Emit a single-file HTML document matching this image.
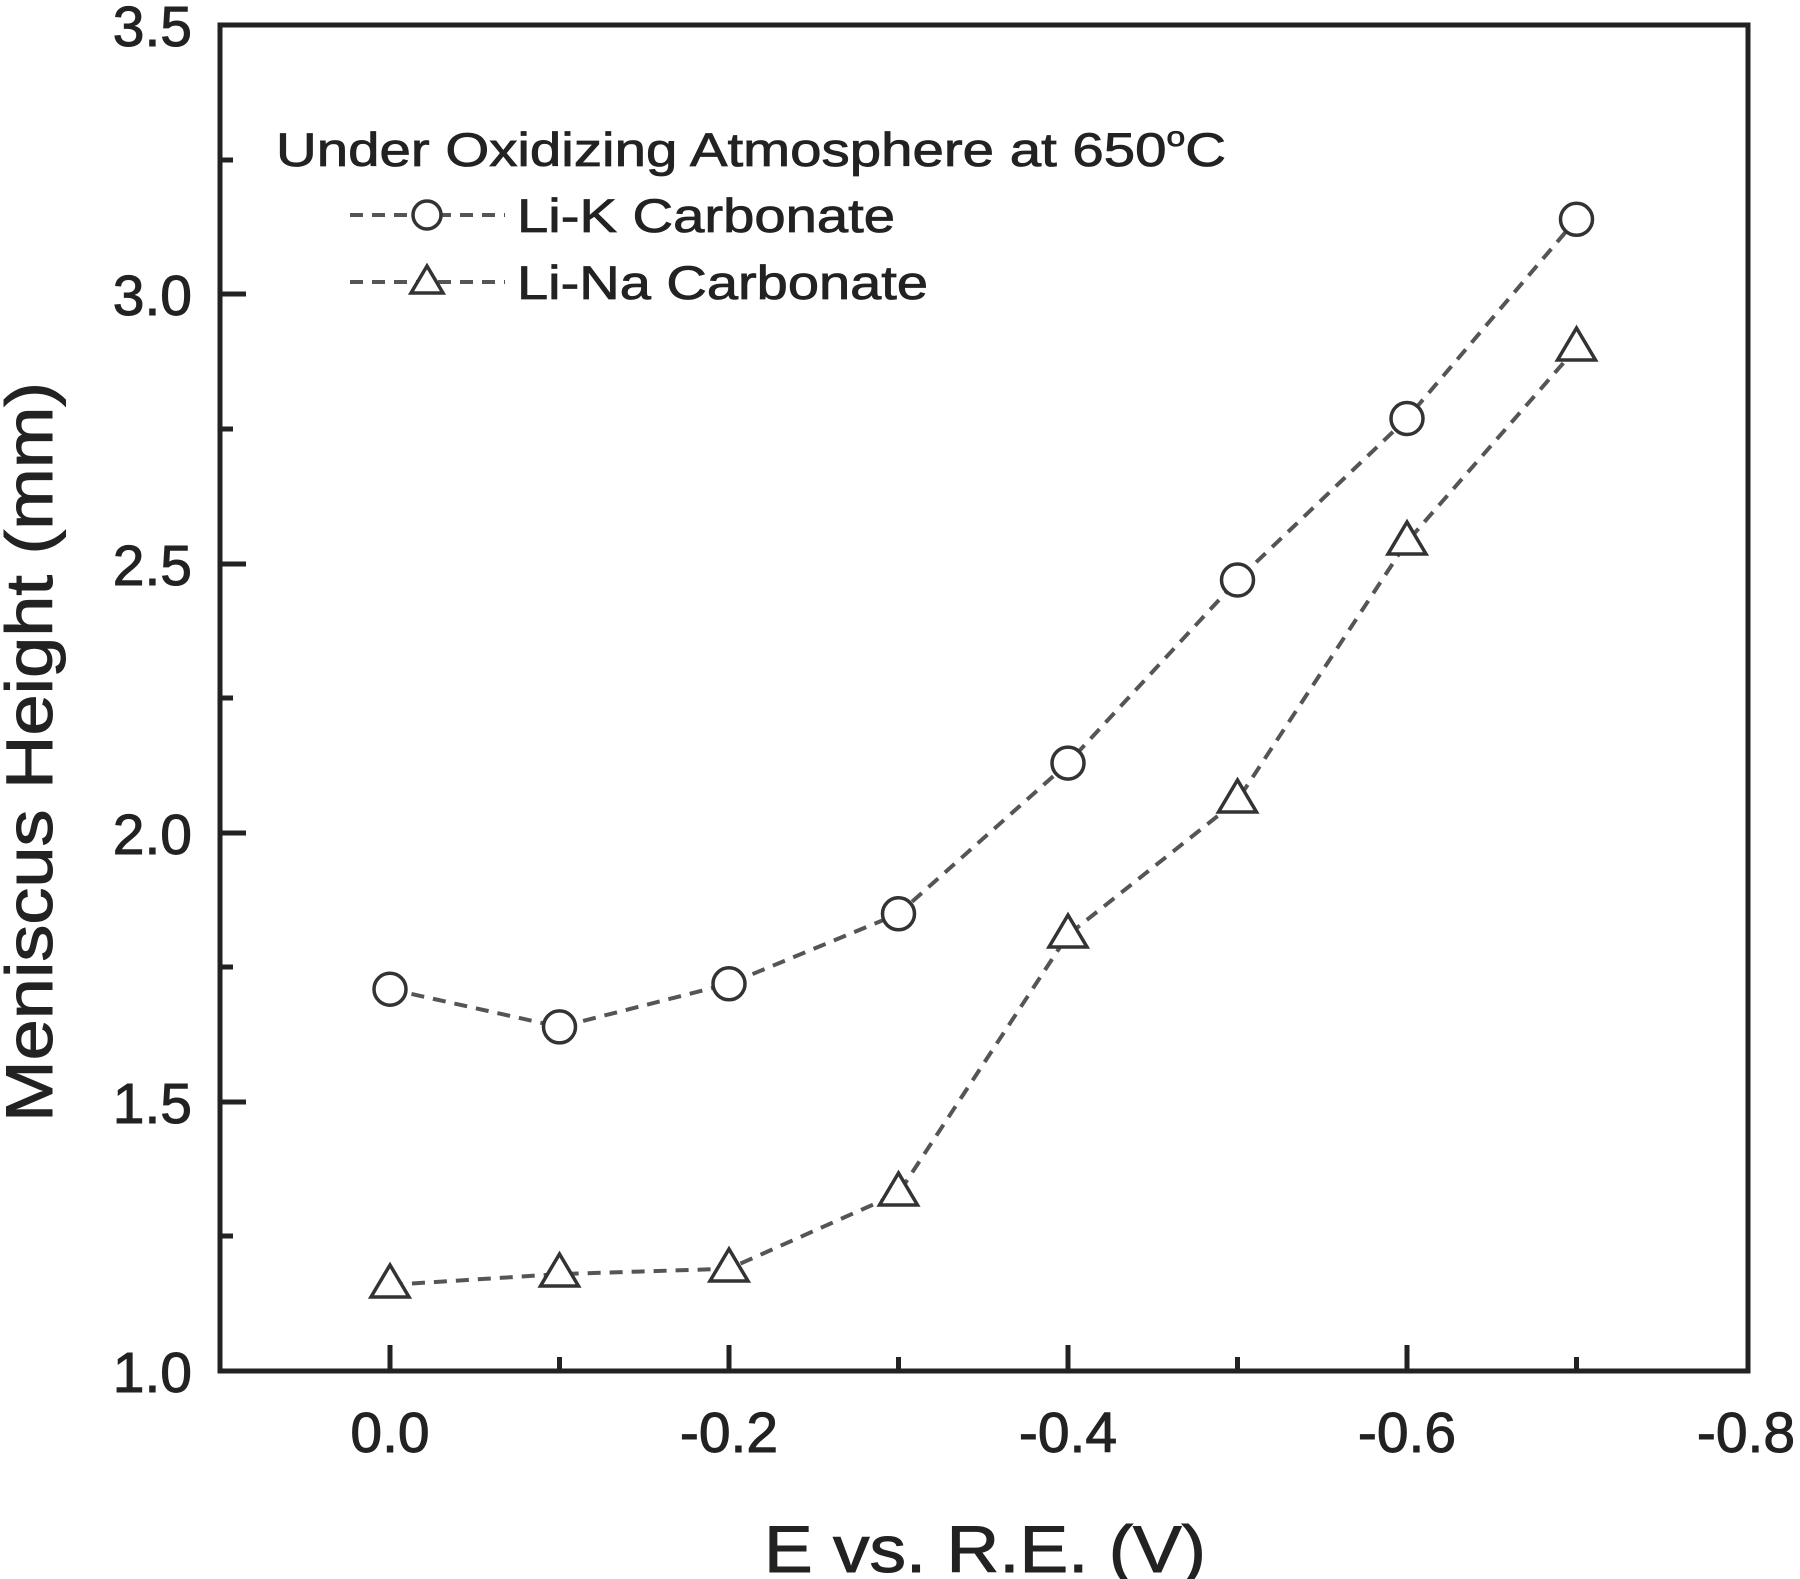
<!DOCTYPE html>
<html><head><meta charset="utf-8"><style>html,body{margin:0;padding:0;background:#fff}svg{display:block}</style></head>
<body>
<svg width="1800" height="1579" viewBox="0 0 1800 1579" xmlns="http://www.w3.org/2000/svg" font-family="Liberation Sans, sans-serif" fill="#222">
<rect x="220" y="25" width="1528" height="1346" fill="none" stroke="#222" stroke-width="5"/>
<g stroke="#222" stroke-width="5">
<line x1="390" y1="1371" x2="390" y2="1345"/><line x1="729" y1="1371" x2="729" y2="1345"/><line x1="1068" y1="1371" x2="1068" y2="1345"/><line x1="1407" y1="1371" x2="1407" y2="1345"/>
<line x1="559.5" y1="1371" x2="559.5" y2="1357"/><line x1="898.5" y1="1371" x2="898.5" y2="1357"/><line x1="1237.5" y1="1371" x2="1237.5" y2="1357"/><line x1="1576.5" y1="1371" x2="1576.5" y2="1357"/>
<line x1="220" y1="1102" x2="246" y2="1102"/><line x1="220" y1="833" x2="246" y2="833"/><line x1="220" y1="564" x2="246" y2="564"/><line x1="220" y1="294" x2="246" y2="294"/>
<line x1="220" y1="1236" x2="233" y2="1236"/><line x1="220" y1="967" x2="233" y2="967"/><line x1="220" y1="698" x2="233" y2="698"/><line x1="220" y1="429" x2="233" y2="429"/><line x1="220" y1="160" x2="233" y2="160"/>
</g>
<g font-size="57" text-anchor="end" stroke="#222" stroke-width="1">
<text x="192" y="1392">1.0</text><text x="192" y="1123">1.5</text><text x="192" y="854">2.0</text><text x="192" y="585">2.5</text><text x="192" y="315">3.0</text><text x="192" y="46">3.5</text>
</g>
<g font-size="57" text-anchor="middle" stroke="#222" stroke-width="1">
<text x="390" y="1452">0.0</text><text x="729" y="1452">-0.2</text><text x="1068" y="1452">-0.4</text><text x="1407" y="1452">-0.6</text><text x="1746" y="1452">-0.8</text>
</g>
<text x="985" y="1572" font-size="66" text-anchor="middle" textLength="442" lengthAdjust="spacingAndGlyphs" stroke="#222" stroke-width="1">E vs. R.E. (V)</text>
<text transform="translate(52,752) rotate(-90)" font-size="66" text-anchor="middle" textLength="740" lengthAdjust="spacingAndGlyphs" stroke="#222" stroke-width="1">Meniscus Height (mm)</text>
<g stroke="#222" stroke-width="0.8">
<text x="276" y="166" font-size="47" textLength="950" lengthAdjust="spacingAndGlyphs">Under Oxidizing Atmosphere at 650<tspan font-size="28" dy="-20">o</tspan><tspan dy="20">C</tspan></text>
<text x="517" y="232" font-size="47" textLength="378" lengthAdjust="spacingAndGlyphs">Li-K Carbonate</text>
<text x="517" y="299" font-size="47" textLength="411" lengthAdjust="spacingAndGlyphs">Li-Na Carbonate</text>
</g>
<g fill="none" stroke="#555" stroke-width="4" stroke-dasharray="13,9">
<line x1="350" y1="215" x2="505" y2="215"/><line x1="350" y1="282" x2="505" y2="282"/>
<polyline points="390,989.2 559.5,1026.9 729,983.8 898.5,913.8 1068,763.1 1237.5,580.0 1407,418.5 1576.5,219.3"/>
<polyline points="390,1284.9 559.5,1274.1 729,1268.7 898.5,1193.3 1068,934.9 1237.5,800.3 1407,541.8 1576.5,348.0"/>
</g>
<g fill="#fff" stroke="#333" stroke-width="3.5">
<circle cx="427" cy="215" r="14"/>
<polygon points="427,266 443,293 411,293"/>
<circle cx="390" cy="989.2" r="16"/><circle cx="559.5" cy="1026.9" r="16"/><circle cx="729" cy="983.8" r="16"/><circle cx="898.5" cy="913.8" r="16"/><circle cx="1068" cy="763.1" r="16"/><circle cx="1237.5" cy="580" r="16"/><circle cx="1407" cy="418.5" r="16"/><circle cx="1576.5" cy="219.3" r="16"/>
<polygon points="390,1265 409,1297 371,1297"/>
<polygon points="559.5,1254 578.5,1286 540.5,1286"/>
<polygon points="729,1249 748,1281 710,1281"/>
<polygon points="898.5,1173 917.5,1205 879.5,1205"/>
<polygon points="1068,915 1087,947 1049,947"/>
<polygon points="1237.5,780 1256.5,812 1218.5,812"/>
<polygon points="1407,522 1426,554 1388,554"/>
<polygon points="1576.5,328 1595.5,360 1557.5,360"/>
</g>
</svg>
</body></html>
